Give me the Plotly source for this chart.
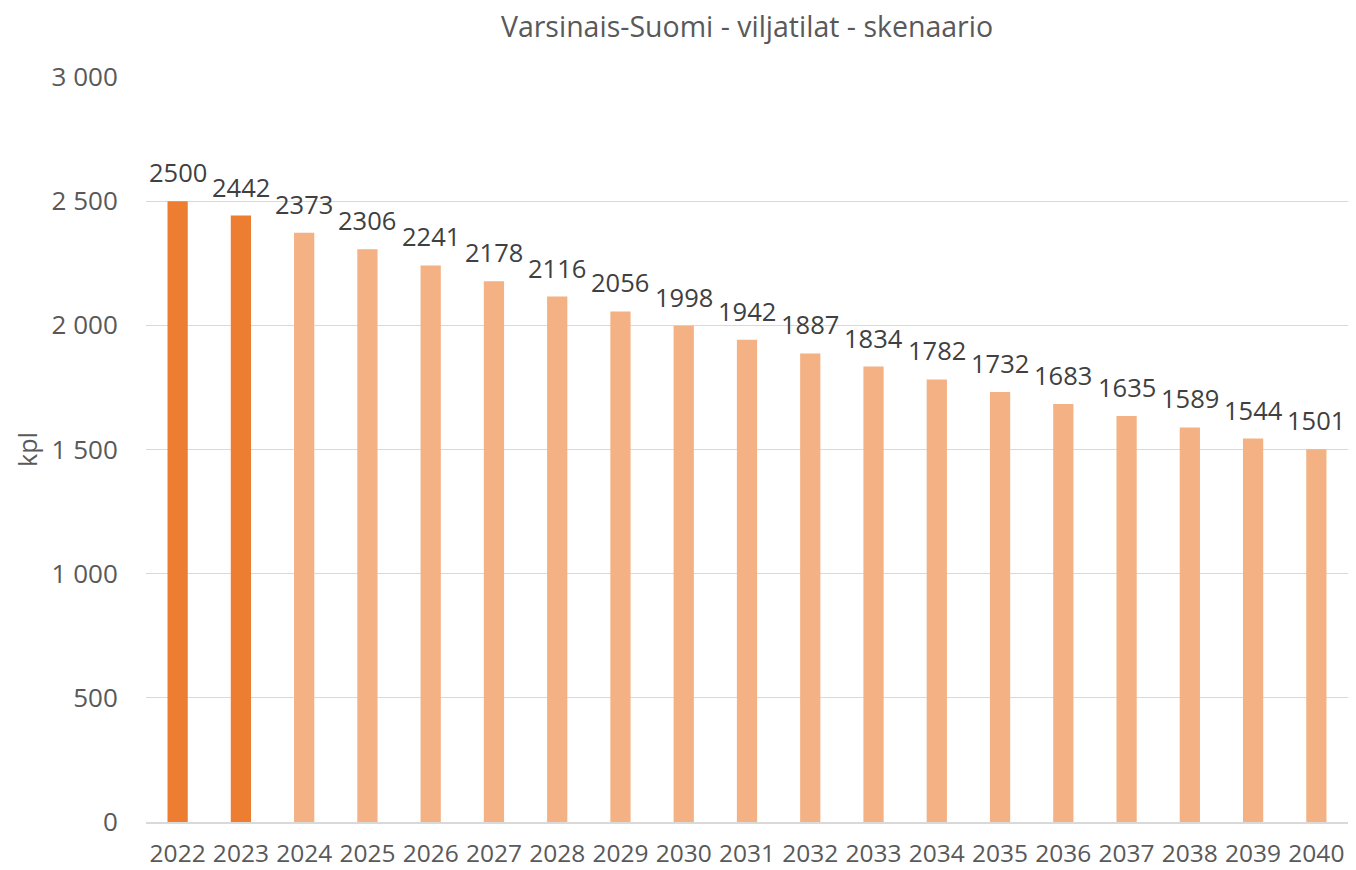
import plotly.graph_objects as go

years = [str(y) for y in range(2022, 2041)]
values = [2500, 2442, 2373, 2306, 2241, 2178, 2116, 2056, 1998, 1942, 1887, 1834,
          1782, 1732, 1683, 1635, 1589, 1544, 1501]
actual_years = ["2022", "2023"]
title_text = "Varsinais-Suomi - viljatilat - skenaario"
y_title = "kpl"

colors = ["#ED7D31" if y in actual_years else "#F4B183" for y in years]
FONT = "Open Sans, Liberation Sans, sans-serif"

fig = go.Figure(go.Bar(
    x=years, y=values,
    marker=dict(color=colors, line=dict(width=0)),
    cliponaxis=False,
))

# data labels: category index positions on the category axis
for idx, v in enumerate(values):
    fig.add_annotation(
        x=idx, y=v, xref="x", yref="y", text=str(v), showarrow=False,
        yanchor="middle", yshift=29,
        font=dict(family=FONT, size=25.5, color="#404040"),
    )

fig.update_layout(
    width=1348, height=862,
    margin=dict(l=138, r=8, t=69, b=48, autoexpand=False),
    paper_bgcolor="white", plot_bgcolor="white",
    bargap=0.68,
    separators=", ",
    title=dict(text=title_text, x=0.5, xref="paper",
               y=1 - 19 / 862, yanchor="middle",
               font=dict(family=FONT, size=28.5, color="#595959")),
    font=dict(family=FONT, color="#595959"),
    showlegend=False,
)
fig.update_xaxes(
    type="category", categoryorder="array", categoryarray=years, automargin=False,
    showgrid=False, showline=True, linecolor="#D9D9D9", linewidth=1.5,
    tickfont=dict(size=24.5, color="#595959"), ticks="outside", ticklen=9, tickcolor="rgba(0,0,0,0)",
)
fig.update_yaxes(
    range=[0, 3000], dtick=500, tickformat=",d", showgrid=True, gridcolor="#D9D9D9",
    gridwidth=1.3, zeroline=False, showline=False, automargin=False,
    tickfont=dict(size=26, color="#595959"), ticks="outside", ticklen=22, tickcolor="rgba(0,0,0,0)",
    title=dict(text=y_title, font=dict(size=25, color="#595959"), standoff=6),
)

fig.write_html("out.html")
